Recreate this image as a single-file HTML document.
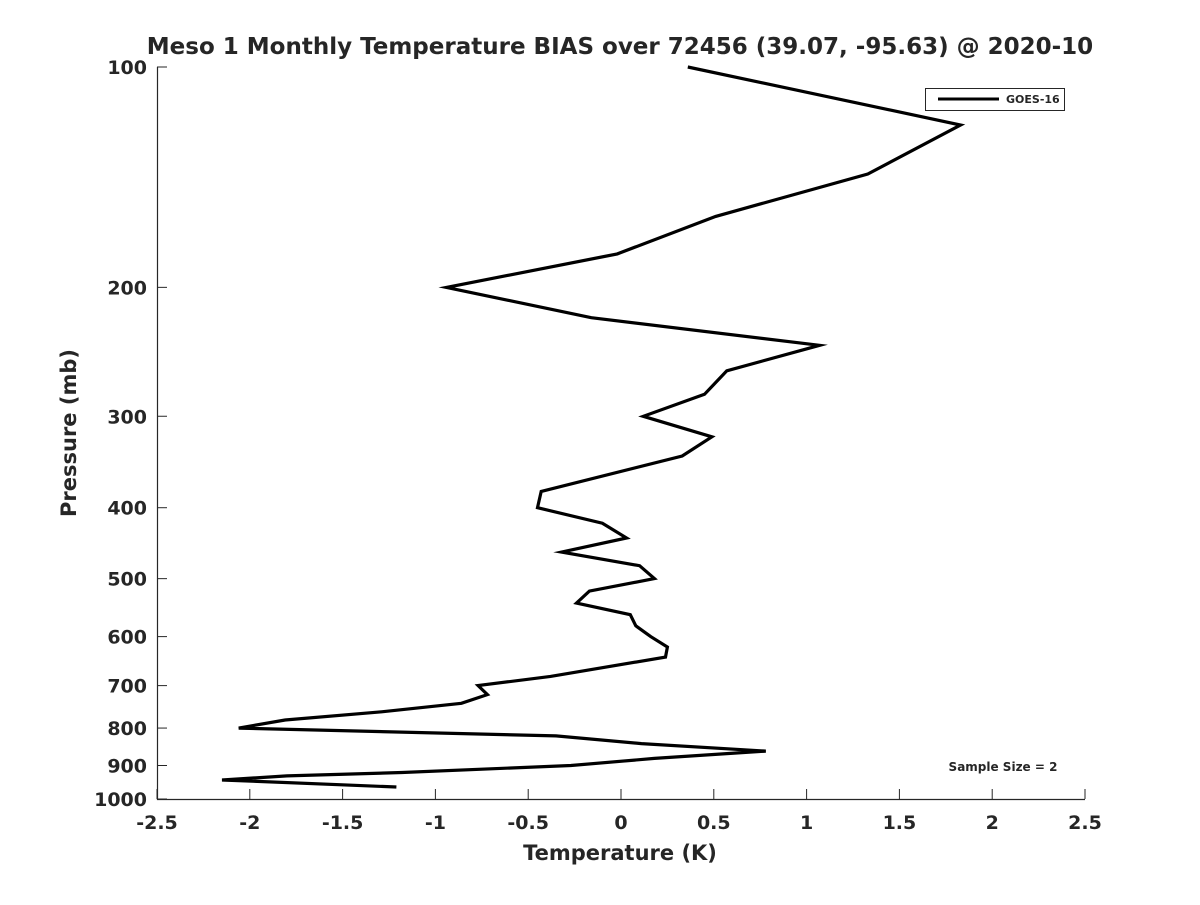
<!DOCTYPE html>
<html><head><meta charset="utf-8"><style>
body{margin:0;background:#fff;}
svg text{font-family:"DejaVu Sans","Liberation Sans",sans-serif;font-weight:bold;fill:#262626;}
</style></head><body>
<svg id="chart" width="1200" height="900" xmlns="http://www.w3.org/2000/svg">
<rect width="1200" height="900" fill="#fff"/>
<text x="620" y="54" text-anchor="middle" font-size="23">Meso 1 Monthly Temperature BIAS over 72456 (39.07, -95.63) @ 2020-10</text>
<g id="axes"></g>
<g id="series"></g>
<text x="620" y="860" text-anchor="middle" font-size="21">Temperature (K)</text>
<text transform="translate(76,433) rotate(-90)" text-anchor="middle" font-size="21">Pressure (mb)</text>
<g>
<rect x="925.5" y="88.5" width="139" height="22" fill="#fff" stroke="#262626" stroke-width="1"/>
<line x1="938" y1="99" x2="999" y2="99" stroke="#000" stroke-width="3"/>
<text x="1006" y="103" font-size="11">GOES-16</text>
</g>
<text x="1003" y="771" text-anchor="middle" font-size="12">Sample Size = 2</text>
</svg>
<script>
const xTicks=[-2.5,-2,-1.5,-1,-0.5,0,0.5,1,1.5,2,2.5];
const yTicks=[100,200,300,400,500,600,700,800,900,1000];
const pressures=[100,120,140,160,180,200,220,240,260,280,300,320,340,380,400,420,440,460,480,500,520,540,560,580,600,620,640,680,700,720,740,760,780,800,820,840,860,880,900,920,930,942,963];
const bias=[0.36,1.83,1.33,0.51,-0.02,-0.94,-0.16,1.07,0.57,0.45,0.12,0.49,0.33,-0.43,-0.45,-0.10,0.03,-0.32,0.10,0.18,-0.17,-0.24,0.05,0.08,0.16,0.25,0.24,-0.38,-0.77,-0.72,-0.86,-1.29,-1.81,-2.06,-0.35,0.11,0.78,0.18,-0.27,-1.18,-1.80,-2.15,-1.21];
const NS="http://www.w3.org/2000/svg";
const L=157,R=1085,T=67,B=799;
function xs(v){return L+(v+2.5)/5*(R-L);}
function ys(p){return T+Math.log10(p/100)*(B-T);}
function mk(tag,attrs,parent){const e=document.createElementNS(NS,tag);for(const k in attrs)e.setAttribute(k,attrs[k]);parent.appendChild(e);return e;}
const ax=document.getElementById('axes');
let a=mk('path',{d:`M${L+0.5},${T} V${B+0.5} H${R}`,fill:'none',stroke:'#262626','stroke-width':1.2},ax);


xTicks.forEach(v=>{const x=xs(v);
 let t=mk('line',{x1:x,y1:B,x2:x,y2:B-10,stroke:'#262626','stroke-width':1},ax);
 
 
 let l=mk('text',{x:x,y:B+30,'text-anchor':'middle','font-size':19},ax);l.textContent=String(v);
 
 
});
yTicks.forEach(p=>{const y=ys(p);
 let t=mk('line',{x1:L,y1:y,x2:L+10,y2:y,stroke:'#262626','stroke-width':1},ax);
 
 
 let l=mk('text',{x:L-10,y:y+7,'text-anchor':'end','font-size':19},ax);l.textContent=String(p);
 
 
});
const pts=pressures.map((p,i)=>xs(bias[i]).toFixed(1)+','+ys(p).toFixed(1)).join(' ');
let line=mk('polyline',{points:pts,fill:'none',stroke:'#000','stroke-width':3.2,'stroke-linejoin':'miter','stroke-miterlimit':10},document.getElementById('series'));


</script>
</body></html>
